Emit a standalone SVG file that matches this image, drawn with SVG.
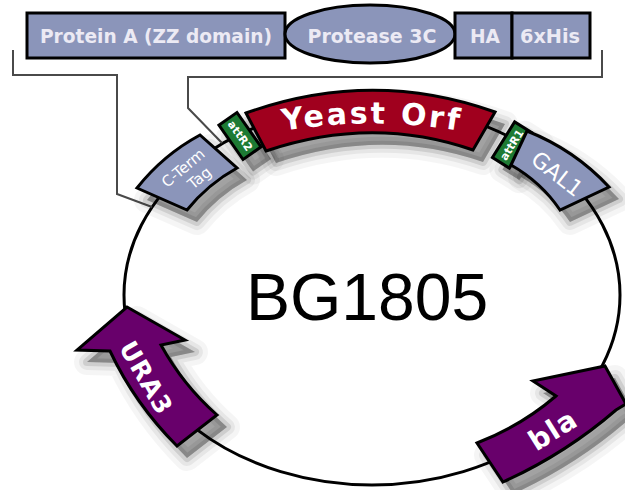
<svg xmlns="http://www.w3.org/2000/svg" xmlns:xlink="http://www.w3.org/1999/xlink" width="625" height="490" viewBox="0 0 625 490">
<defs>
<style>
.box{fill:#8b95ba;stroke:#000;stroke-width:3}
.lbl{fill:#eceaf4;font-family:"DejaVu Sans",sans-serif;font-weight:bold;font-size:20px;text-anchor:middle}
.feat{stroke:#000;stroke-width:3;stroke-linejoin:miter}
.slate{fill:#8b95ba}
.red{fill:#a0001e}
.green{fill:#1d7a33}
.purple{fill:#68006b}
.wt{fill:#ffffff;font-family:"DejaVu Sans",sans-serif;text-anchor:middle;dominant-baseline:central}
.br{fill:none;stroke:#4a4a4a;stroke-width:2}
.s1{fill:#000;fill-opacity:0.04;stroke:#000;stroke-opacity:0.04;stroke-width:26;stroke-linejoin:round}
.s2{fill:#000;fill-opacity:0.06;stroke:#000;stroke-opacity:0.06;stroke-width:16;stroke-linejoin:round}
.s3{fill:#000;fill-opacity:0.10;stroke:#000;stroke-opacity:0.10;stroke-width:8;stroke-linejoin:round}
.s4{fill:#000;fill-opacity:0.18;stroke:none}
</style>
<path id="orfPath" d="M262,135 Q372,112 482,135"/>
<path id="p-orf" d="M246,113 Q372,68 495,112 L473,150 Q372,115 266,151 Z"/>
<rect id="p-attr2" x="-21" y="-11" width="42" height="22" transform="translate(240,136) rotate(55)"/>
<path id="p-cterm" d="M137,188 Q163,155 200,135 L237,168 Q208,184 187,210 Z"/>
<rect id="p-attr1" x="-21" y="-10" width="42" height="20" transform="translate(512,145) rotate(-58)"/>
<path id="p-gal1" d="M527,131 Q575,150 609,187 L560,210 Q541,182 511,165 Z"/>
<path id="p-ura3" d="M127,307 L185,340 L161,345 Q183,385 217,415 L177,446 Q135,404 110,351 L77,350 Z"/>
<path id="p-bla" d="M605,366 L626,404 L616,410 Q565,454 503,482 L477,443 Q521,426 556,396 L533,381 Z"/>
</defs>
<rect width="625" height="490" fill="#fff"/>

<g id="connectors">
<ellipse id="backbone" cx="372" cy="295" rx="248" ry="190" fill="none" stroke="#000" stroke-width="3"/>
<polyline class="br" points="13,50 13,75 117,75 117,194 152,207"/>
<polyline class="br" points="602,50 602,77 188,77 188,108 222,143"/>
</g>

<g id="shadows" transform="translate(10,12)">
<g class="s1"><use href="#p-orf"/><use href="#p-attr2"/><use href="#p-cterm"/><use href="#p-attr1"/><use href="#p-gal1"/><use href="#p-ura3"/><use href="#p-bla"/></g>
<g class="s2"><use href="#p-orf"/><use href="#p-attr2"/><use href="#p-cterm"/><use href="#p-attr1"/><use href="#p-gal1"/><use href="#p-ura3"/><use href="#p-bla"/></g>
<g class="s3"><use href="#p-orf"/><use href="#p-attr2"/><use href="#p-cterm"/><use href="#p-attr1"/><use href="#p-gal1"/><use href="#p-ura3"/><use href="#p-bla"/></g>
<g class="s4"><use href="#p-orf"/><use href="#p-attr2"/><use href="#p-cterm"/><use href="#p-attr1"/><use href="#p-gal1"/><use href="#p-ura3"/><use href="#p-bla"/></g>
</g>

<g id="protein-a">
<rect class="box" x="27" y="13" width="258" height="45"/>
<text class="lbl" x="156" y="43" textLength="232" lengthAdjust="spacingAndGlyphs">Protein A (ZZ domain)</text>
</g>
<g id="protease-3c">
<ellipse class="box" cx="370" cy="34" rx="85" ry="29"/>
<text class="lbl" x="372" y="43" textLength="129" lengthAdjust="spacingAndGlyphs">Protease 3C</text>
</g>
<g id="ha">
<rect class="box" x="455" y="13" width="57" height="45"/>
<text class="lbl" x="485" y="43" textLength="30" lengthAdjust="spacingAndGlyphs">HA</text>
</g>
<g id="his6">
<rect class="box" x="512" y="13" width="78" height="45"/>
<text class="lbl" x="550" y="43" textLength="60" lengthAdjust="spacingAndGlyphs">6xHis</text>
</g>

<g id="yeast-orf">
<use class="feat red" href="#p-orf"/>
<text font-family="DejaVu Sans, sans-serif" font-weight="bold" font-size="30" fill="#fff" letter-spacing="2.5" text-anchor="middle"><textPath href="#orfPath" startOffset="50%">Yeast Orf</textPath></text>
</g>
<g id="attR2">
<use class="feat green" href="#p-attr2"/>
<text class="wt" transform="translate(240,136) rotate(55)" font-size="11" font-weight="bold">attR2</text>
</g>
<g id="c-term-tag">
<use class="feat slate" href="#p-cterm"/>
<g transform="translate(190,173) rotate(-40)">
<text class="wt" x="-2" y="-8" font-size="15">C-Term</text>
<text class="wt" x="4" y="10" font-size="15">Tag</text>
</g>
</g>
<g id="attR1">
<use class="feat green" href="#p-attr1"/>
<text class="wt" transform="translate(512,145) rotate(-58)" font-size="11" font-weight="bold">attR1</text>
</g>
<g id="gal1">
<use class="feat slate" href="#p-gal1"/>
<text class="wt" transform="translate(557,174) rotate(38)" font-size="22">GAL1</text>
</g>
<g id="ura3">
<use class="feat purple" href="#p-ura3"/>
<text class="wt" transform="translate(146,378) rotate(60)" font-size="25" font-weight="bold" letter-spacing="1">URA3</text>
</g>
<g id="bla">
<use class="feat purple" href="#p-bla"/>
<text class="wt" transform="translate(553,430) rotate(-32)" font-size="28" font-weight="bold" letter-spacing="1">bla</text>
</g>

<g id="bg1805">
<text x="367" y="320" font-family="Liberation Sans, Arial, sans-serif" font-size="66" text-anchor="middle" fill="#000">BG1805</text>
</g>
</svg>
